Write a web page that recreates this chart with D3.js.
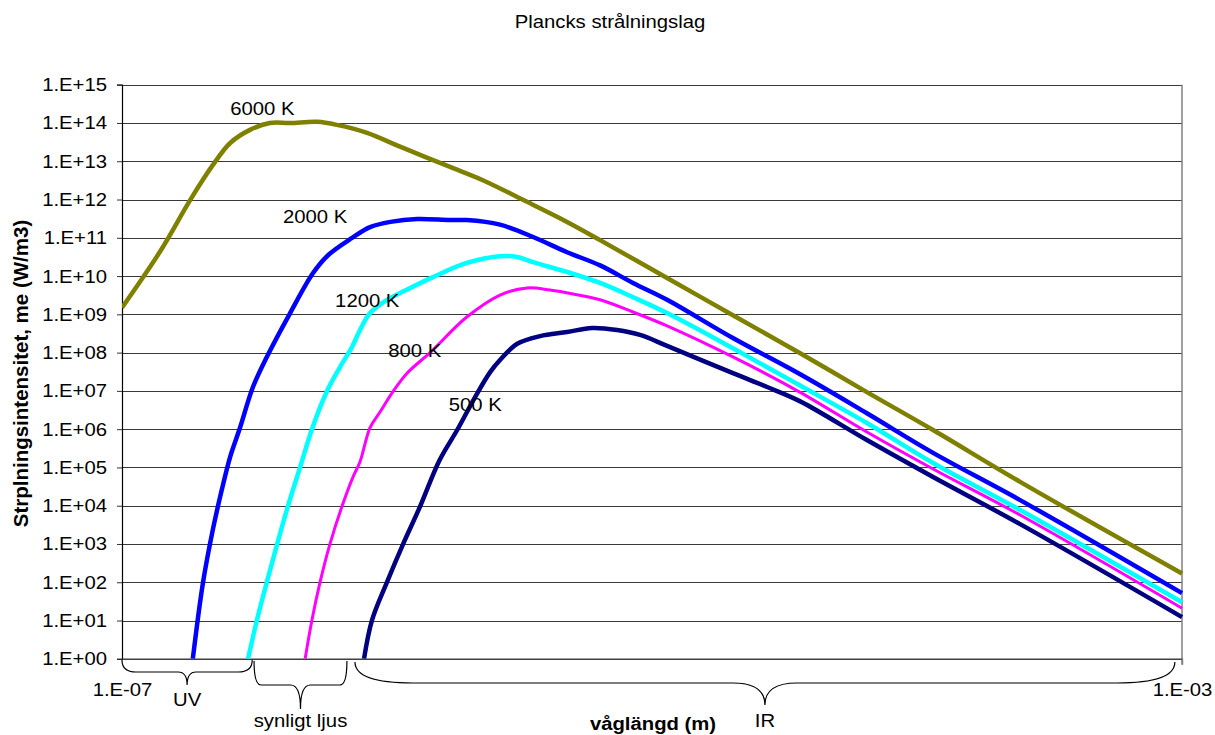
<!DOCTYPE html>
<html>
<head>
<meta charset="utf-8">
<script src="https://cdn.jsdelivr.net/npm/d3@7"></script>
<style>
  html, body { margin: 0; padding: 0; background: #fff; }
  svg { display: block; font-family: "Liberation Sans", Arial, sans-serif; }
</style>
</head>
<body>
<svg id="chart" width="1215" height="735"></svg>
<script>
// ---------- data (wavelength in m, intensity in W/m3) ----------
const seriesNames = ["6000 K", "2000 K", "1200 K", "800 K", "500 K"];

const wl6000 = [1.00e-7, 1.39e-7, 1.81e-7, 2.20e-7, 2.56e-7, 3.04e-7, 3.61e-7, 4.31e-7, 5.45e-7, 6.47e-7, 8.41e-7, 1.12e-6, 1.73e-6, 2.30e-6, 3.26e-6, 4.78e-6, 6.37e-6, 1.14e-5, 2.02e-5, 3.61e-5, 6.47e-5, 1.15e-4, 2.45e-4, 1.00e-3];
const me6000 = [1.5e9, 4.3e10, 9.8e11, 7.9e12, 3.0e13, 6.6e13, 1.0e14, 1.0e14, 1.07e14, 8.9e13, 5.5e13, 2.4e13, 7.1e12, 3.2e12, 9.8e11, 2.6e11, 8.7e10, 8.9e9, 9.5e8, 9.8e7, 9.3e6, 9.5e5, 4.2e4, 1.7e2];

const wl2000 = [1.85e-7, 2.02e-7, 2.20e-7, 2.38e-7, 2.56e-7, 2.79e-7, 3.12e-7, 3.52e-7, 4.31e-7, 5.26e-7, 5.99e-7, 7.38e-7, 8.63e-7, 1.03e-6, 1.30e-6, 1.73e-6, 2.00e-6, 2.67e-6, 3.56e-6, 4.78e-6, 6.37e-6, 8.48e-6, 1.14e-5, 2.02e-5, 3.61e-5, 6.47e-5, 1.15e-4, 2.45e-4, 1.00e-3];
const me2000 = [1.0, 95, 2.3e3, 2.6e4, 1.9e5, 1.1e6, 1.26e7, 7.7e7, 1.08e9, 1.2e10, 3.5e10, 9.9e10, 1.9e11, 2.6e11, 3.1e11, 2.9e11, 2.9e11, 2.2e11, 1.05e11, 4.2e10, 1.9e10, 6.6e9, 2.4e9, 2.4e8, 2.75e7, 2.6e6, 2.4e5, 1.4e4, 52];

const wl1200 = [2.99e-7, 3.23e-7, 3.52e-7, 3.85e-7, 4.23e-7, 4.70e-7, 5.21e-7, 5.94e-7, 6.65e-7, 7.38e-7, 7.91e-7, 8.63e-7, 1.00e-6, 1.12e-6, 1.49e-6, 2.00e-6, 2.67e-6, 3.10e-6, 3.56e-6, 4.78e-6, 6.37e-6, 8.48e-6, 1.14e-5, 2.02e-5, 3.61e-5, 6.47e-5, 1.15e-4, 2.45e-4, 1.00e-3];
const me1200 = [1.0, 10.3, 101, 995, 9.8e3, 1.02e5, 1.0e6, 9.9e6, 4.2e7, 1.4e8, 3.9e8, 1.08e9, 2.4e9, 3.6e9, 9.4e9, 2.2e10, 3.3e10, 3.15e10, 2.3e10, 1.28e10, 6.6e9, 2.8e9, 1.08e9, 1.3e8, 1.4e7, 1.45e6, 1.3e5, 7.7e3, 30];

const wl800 = [4.91e-7, 5.21e-7, 5.59e-7, 6.09e-7, 6.77e-7, 7.44e-7, 7.91e-7, 8.63e-7, 9.41e-7, 1.05e-6, 1.19e-6, 1.45e-6, 2.00e-6, 2.67e-6, 3.38e-6, 4.12e-6, 5.04e-6, 6.37e-6, 8.48e-6, 1.14e-5, 2.02e-5, 3.61e-5, 6.47e-5, 1.15e-4, 2.45e-4, 1.00e-3];
const me800 = [1.0, 10.3, 101, 995, 9.8e3, 5.6e4, 1.4e5, 1.1e6, 2.8e6, 9.3e6, 2.9e7, 9.8e7, 8.5e8, 3.2e9, 4.9e9, 4.3e9, 3.4e9, 2.4e9, 1.15e9, 5.0e8, 7.7e7, 9.3e6, 8.4e5, 9.1e4, 5.7e3, 21];

const wl500 = [8.19e-7, 8.78e-7, 1.00e-6, 1.15e-6, 1.33e-6, 1.58e-6, 1.84e-6, 2.15e-6, 2.45e-6, 2.67e-6, 3.10e-6, 3.78e-6, 4.78e-6, 5.94e-6, 7.38e-6, 9.01e-6, 1.14e-5, 2.02e-5, 2.72e-5, 3.61e-5, 6.47e-5, 1.15e-4, 2.45e-4, 1.00e-3];
const me500 = [1.0, 10.3, 101, 995, 9.2e3, 1.56e5, 9.5e5, 6.9e6, 3.1e7, 6.4e7, 1.7e8, 2.7e8, 3.45e8, 4.4e8, 3.9e8, 2.9e8, 1.5e8, 2.9e7, 1.26e7, 5.4e6, 5.2e5, 5.6e4, 3.3e3, 12.3];

const yTickValues = [1e0,1e1,1e2,1e3,1e4,1e5,1e6,1e7,1e8,1e9,1e10,1e11,1e12,1e13,1e14,1e15];
const xTickValues = [1e-7, 1e-3];

// label anchors in data coordinates (wavelength of left edge, intensity at baseline)
const labelWl = [2.56e-7, 4.05e-7, 6.37e-7, 1.01e-6, 1.71e-6];
const labelMe = [1.6e14, 2.4e11, 1.6e9, 7.6e7, 2.9e6];

// spectral bands
const bandNames = ["UV", "synligt ljus", "IR"];
const bandStart = [1.0e-7, 3.15e-7, 7.57e-7];
const bandEnd   = [3.1e-7, 7.06e-7, 9.4e-4];

const title = "Plancks strålningslag";
const xTitle = "våglängd (m)";
const yTitle = "Strplningsintensitet, me (W/m3)";

// ---------- layout ----------
const L = 122, R = 1182, T = 84.7, B = 658.8;
const SX = 1.16, FS = 17.5;
const colors = ["#808000", "#0000FF", "#00FFFF", "#FF00FF", "#000080"];
const widths = [4.5, 4.5, 4.5, 3, 4.5];

const svg = d3.select("#chart");
const x = d3.scaleLog().domain([1e-7, 1e-3]).range([L, R]);
const y = d3.scaleLog().domain([1, 1e15]).range([B, T]);

const fmtY = v => "1.E+" + String(Math.round(Math.log10(v))).padStart(2, "0");
const fmtX = v => { const e = Math.round(Math.log10(v)); return "1.E" + (e < 0 ? "-" : "+") + String(Math.abs(e)).padStart(2, "0"); };

function stretchedText(g, tx, ty, str, anchor, weight) {
  return g.append("text")
    .attr("transform", `translate(${tx},${ty}) scale(${SX},1)`)
    .attr("text-anchor", anchor)
    .attr("font-size", FS)
    .attr("font-weight", weight || "normal")
    .attr("fill", "#000")
    .text(str);
}

// title
stretchedText(svg, 610, 28, title, "middle");

// gridlines
svg.append("g").selectAll("line").data(yTickValues.slice(1)).join("line")
  .attr("x1", L).attr("x2", R)
  .attr("y1", d => Math.round(y(d)) + 0.5).attr("y2", d => Math.round(y(d)) + 0.5)
  .attr("stroke", "#3a3a3a").attr("stroke-width", 1);

// right border line
svg.append("line").attr("x1", R).attr("x2", R).attr("y1", T).attr("y2", B + 6)
  .attr("stroke", "#808080").attr("stroke-width", 1.5);

// y axis
const yAxis = d3.axisLeft(y).tickValues(yTickValues).tickFormat(fmtY).tickSize(5).tickPadding(10);
const gy = svg.append("g").attr("transform", `translate(${L},0)`).call(yAxis);
gy.select(".domain").attr("stroke", "#000").attr("stroke-width", 1.2);
gy.selectAll(".tick line").attr("stroke", "#333");
gy.selectAll(".tick text")
  .attr("x", null).attr("dy", null)
  .attr("transform", `translate(-15,6) scale(${SX},1)`)
  .attr("font-size", FS).attr("font-family", "Liberation Sans, Arial, sans-serif").attr("fill", "#000");

// x axis
const xAxis = d3.axisBottom(x).tickValues(xTickValues).tickFormat(fmtX).tickSize(6).tickSizeOuter(0);
const gx = svg.append("g").attr("transform", `translate(0,${B})`).call(xAxis);
gx.select(".domain").attr("stroke", "#404040").attr("stroke-width", 1.6);
gx.selectAll(".tick line").attr("stroke", d => d === 1e-7 ? "none" : "#808080").attr("stroke-width", 1.5);
gx.selectAll(".tick text")
  .attr("y", null).attr("dy", null)
  .attr("transform", `translate(0,37) scale(${SX},1)`)
  .attr("font-size", FS).attr("font-family", "Liberation Sans, Arial, sans-serif").attr("fill", "#000");

// clip
svg.append("clipPath").attr("id", "plotclip").append("rect")
  .attr("x", L).attr("y", T - 5).attr("width", R - L + 3).attr("height", B - T + 5);

// curves
const series = [
  { wl: wl6000, me: me6000 },
  { wl: wl2000, me: me2000 },
  { wl: wl1200, me: me1200 },
  { wl: wl800,  me: me800 },
  { wl: wl500,  me: me500 }
];
const line = d3.line().x(d => x(d[0])).y(d => y(d[1])).curve(d3.curveCatmullRom.alpha(0.5));
const gc = svg.append("g").attr("clip-path", "url(#plotclip)");
series.forEach((s, i) => {
  gc.append("path")
    .datum(s.wl.map((w, k) => [w, s.me[k]]))
    .attr("d", line)
    .attr("fill", "none")
    .attr("stroke", colors[i])
    .attr("stroke-width", widths[i])
    .attr("stroke-linejoin", "round");
});

// curve labels
seriesNames.forEach((n, i) => {
  stretchedText(svg, x(labelWl[i]), y(labelMe[i]), n, "start");
});

// braces
const braceStyle = [
  { y0: 660, arm: 12, armW: 14, tip: 13, tipW: 9,  ly: 706 },
  { y0: 661, arm: 24, armW: 7,  tip: 24, tipW: 10, ly: 727 },
  { y0: 662, arm: 21, armW: 58, tip: 22, tipW: 32, ly: 727 }
];
bandNames.forEach((n, i) => {
  const x0 = x(bandStart[i]), x1 = x(bandEnd[i]), xm = (x0 + x1) / 2;
  const b = braceStyle[i];
  const h = b.y0 + b.arm;
  const p = d3.path();
  p.moveTo(x0, b.y0);
  p.quadraticCurveTo(x0, h, x0 + b.armW, h);
  p.lineTo(xm - b.tipW, h);
  p.quadraticCurveTo(xm, h, xm, h + b.tip);
  p.quadraticCurveTo(xm, h, xm + b.tipW, h);
  p.lineTo(x1 - b.armW, h);
  p.quadraticCurveTo(x1, h, x1, b.y0);
  svg.append("path").attr("d", p.toString()).attr("fill", "none")
    .attr("stroke", "#000").attr("stroke-width", 1.2);
  stretchedText(svg, xm, b.ly, n, "middle");
});

// axis titles
stretchedText(svg, 653, 730, xTitle, "middle", "bold");
svg.append("text")
  .attr("transform", "translate(28,373.5) rotate(-90)")
  .attr("text-anchor", "middle")
  .attr("font-size", 20.5)
  .attr("font-weight", "bold")
  .text(yTitle);
</script>
</body>
</html>
